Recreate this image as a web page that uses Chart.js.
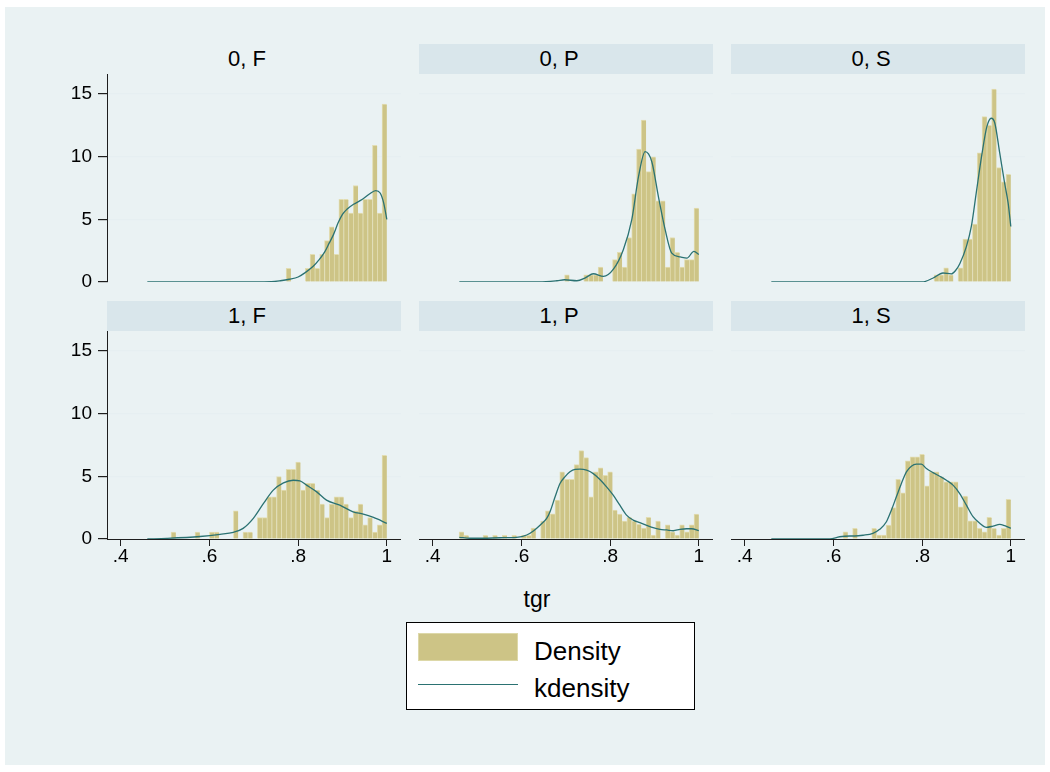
<!DOCTYPE html>
<html>
<head>
<meta charset="utf-8">
<script src="https://cdn.jsdelivr.net/npm/chart.js@4.4.1/dist/chart.umd.min.js"></script>
<style>
  body { margin: 0; background: #ffffff; font-family: "Liberation Sans", Arial, sans-serif; }
  #fig { position: relative; width: 1050px; height: 772px; overflow: hidden; }
  #bg { position: absolute; left: 5px; top: 7px; width: 1040px; height: 758px; background: #eaf2f3; }
  .band { position: absolute; height: 30px; background: #d9e6eb; }
  .hdr { position: absolute; height: 30px; line-height: 30px; font-size: 22px; text-align: center; color: #000; }
  canvas { position: absolute; }
  #xtitle { position: absolute; left: 487px; width: 100px; top: 586px; text-align: center; font-size: 23px; }
  #legend { position: absolute; left: 406px; top: 622px; width: 287px; height: 86px; background: #fff; border: 1px solid #000; }
  .swatch { position: absolute; left: 11px; top: 10px; width: 98px; height: 26px; background: #cdc486; border: 1px solid #ddd8a8; }
  .lline { position: absolute; left: 11px; top: 61px; width: 100px; height: 1.3px; background: #2b7272; }
  .ltext { position: absolute; left: 127px; font-size: 26px; line-height: 30px; }
</style>
</head>
<body>
<div id="fig">
  <div id="bg"></div>
  <div id="xtitle">tgr</div>
  <div id="legend">
    <div class="swatch"></div>
    <div class="ltext" style="top:13px">Density</div>
    <div class="lline"></div>
    <div class="ltext" style="top:50px">kdensity</div>
  </div>
</div>
<script>
// histogram bins (centres), shared by all panels
const binCenters = [
  0.4649, 0.4757, 0.4865, 0.4973, 0.5081, 0.5189, 0.5298, 0.5406, 0.5514, 0.5622,
  0.5730, 0.5838, 0.5946, 0.6054, 0.6162, 0.6270, 0.6379, 0.6487, 0.6595, 0.6703,
  0.6811, 0.6919, 0.7027, 0.7135, 0.7243, 0.7351, 0.7460, 0.7568, 0.7676, 0.7784,
  0.7892, 0.8000, 0.8108, 0.8216, 0.8324, 0.8432, 0.8541, 0.8649, 0.8757, 0.8865,
  0.8973, 0.9081, 0.9189, 0.9297, 0.9405, 0.9514, 0.9622, 0.9730, 0.9838, 0.9946
];
const xTickValues = [0.4, 0.6, 0.8, 1];
const xTickLabels = ['.4', '.6', '.8', '1'];
const yTickValues = [0, 5, 10, 15];
const yTickLabels = ['0', '5', '10', '15'];
const panelTitles = ['0, F', '0, P', '0, S', '1, F', '1, P', '1, S'];

// histogram densities
const density0F = [
  0, 0, 0, 0, 0, 0, 0, 0, 0, 0,
  0, 0, 0, 0, 0, 0, 0, 0, 0, 0,
  0, 0, 0, 0, 0, 0, 0, 0, 0, 1.1,
  0, 0, 0, 1.1, 2.2, 1.1, 2.2, 3.3, 4.4, 2.2,
  6.6, 6.6, 5.5, 7.7, 5.5, 6.6, 6.6, 10.9, 5.5, 14.2
];
const density0P = [
  0, 0, 0, 0, 0, 0, 0, 0, 0, 0,
  0, 0, 0, 0, 0, 0, 0, 0, 0, 0,
  0, 0, 0.58, 0, 0, 0, 0.58, 0.58, 0.58, 1.2,
  0, 0, 1.78, 2.36, 1.2, 3.55, 7.04, 10.6, 12.93, 8.81,
  9.98, 6.48, 6.48, 1.2, 3.55, 2.36, 1.2, 1.78, 1.78, 5.9
];
const density0S = [
  0, 0, 0, 0, 0, 0, 0, 0, 0, 0,
  0, 0, 0, 0, 0, 0, 0, 0, 0, 0,
  0, 0, 0, 0, 0, 0, 0, 0, 0, 0,
  0, 0, 0, 0, 0.57, 0.57, 1.14, 0.57, 0, 1.14,
  3.42, 3.42, 4.62, 10.3, 13.2, 12.5, 15.4, 9.13, 8.0, 8.6
];
const density1F = [
  0, 0, 0, 0, 0, 0.56, 0, 0, 0, 0,
  0.56, 0, 0, 0.56, 0.56, 0, 0, 0, 2.25, 0,
  0.56, 0.56, 0, 1.7, 1.7, 3.37, 3.37, 4.98, 3.9, 5.57,
  5.57, 6.13, 3.9, 4.45, 4.45, 3.9, 2.78, 1.7, 2.78, 3.37,
  3.37, 2.78, 1.7, 2.25, 2.78, 1.14, 1.7, 0.56, 1.14, 6.68
];
const density1P = [
  0.58, 0.29, 0, 0, 0, 0.29, 0, 0.29, 0, 0.29,
  0, 0.29, 0, 0.29, 0.29, 0.87, 0, 1.43, 2.25, 2.0,
  3.1, 5.36, 4.77, 4.77, 5.94, 7.05, 6.5, 3.37, 5.36, 5.67,
  5.09, 5.36, 2.31, 1.99, 1.43, 1.72, 1.43, 1.17, 0.87, 1.72,
  0.32, 1.43, 0, 1.14, 0.58, 0.32, 1.14, 0.58, 1.14, 1.99
];
const density1S = [
  0, 0, 0, 0, 0, 0, 0, 0, 0, 0,
  0, 0, 0, 0, 0, 0.58, 0, 0.85, 0, 0,
  0, 0.85, 0.32, 0.32, 1.11, 2.5, 4.77, 3.69, 6.23, 6.55,
  6.55, 6.76, 4.24, 5.36, 5.36, 4.96, 4.56, 4.56, 4.56, 2.57,
  3.42, 1.46, 1.46, 0.85, 0.58, 1.72, 0.85, 0.32, 0.85, 3.16
];

// kernel density curves
const kdensX0F = [0.46, 0.70, 0.74, 0.76, 0.78, 0.80, 0.816, 0.834, 0.848, 0.86, 0.87, 0.88, 0.89, 0.90, 0.91, 0.925, 0.945, 0.96, 0.975, 0.985, 0.993, 1.0];
const kdensY0F = [0, 0, 0.02, 0.1, 0.22, 0.4, 0.75, 1.25, 1.8, 2.4, 3.1, 3.8, 4.7, 5.4, 5.8, 6.2, 6.6, 7.0, 7.3, 7.1, 6.3, 5.0];
const kdensX0P = [0.46, 0.64, 0.68, 0.697, 0.725, 0.745, 0.762, 0.785, 0.807, 0.83, 0.849, 0.864, 0.879, 0.894, 0.909, 0.924, 0.939, 0.958, 0.973, 0.989, 1.0];
const kdensY0P = [0, 0, 0.1, 0.18, 0.1, 0.35, 0.66, 0.45, 1.0, 2.6, 5.0, 8.4, 10.4, 9.6, 6.8, 4.2, 2.3, 2.0, 1.9, 2.45, 2.2];
const kdensX0S = [0.46, 0.80, 0.825, 0.847, 0.866, 0.875, 0.885, 0.900, 0.911, 0.922, 0.934, 0.946, 0.956, 0.964, 0.975, 0.986, 0.994, 1.0];
const kdensY0S = [0, 0, 0.32, 0.72, 0.65, 0.9, 1.46, 2.84, 4.43, 7.1, 10.0, 12.4, 13.07, 12.67, 10.3, 7.9, 6.3, 4.43];
const kdensX1F = [0.46, 0.504, 0.579, 0.624, 0.654, 0.676, 0.699, 0.722, 0.744, 0.767, 0.789, 0.804, 0.819, 0.842, 0.864, 0.894, 0.924, 0.947, 0.970, 1.0];
const kdensY1F = [0, 0.05, 0.2, 0.37, 0.53, 0.85, 1.65, 2.84, 3.9, 4.48, 4.69, 4.64, 4.3, 3.76, 3.1, 2.7, 2.17, 1.99, 1.72, 1.25];
const kdensX1P = [0.46, 0.484, 0.514, 0.552, 0.589, 0.612, 0.627, 0.642, 0.657, 0.6645, 0.676, 0.687, 0.698, 0.7095, 0.721, 0.732, 0.747, 0.762, 0.777, 0.792, 0.807, 0.822, 0.837, 0.852, 0.867, 0.8825, 0.897, 0.9125, 0.9276, 0.9425, 0.9576, 0.9727, 0.984, 1.0];
const kdensY1P = [0.13, 0.06, 0.06, 0.1, 0.13, 0.32, 0.64, 1.1, 1.64, 2.17, 3.37, 4.43, 4.96, 5.36, 5.55, 5.57, 5.49, 5.22, 4.75, 4.16, 3.5, 2.7, 1.91, 1.51, 1.3, 1.09, 0.9, 0.77, 0.72, 0.66, 0.77, 0.82, 0.82, 0.66];
const kdensX1S = [0.46, 0.592, 0.614, 0.637, 0.648, 0.667, 0.689, 0.7044, 0.7195, 0.7307, 0.742, 0.7533, 0.7646, 0.7758, 0.7871, 0.7984, 0.8097, 0.8246, 0.8397, 0.8548, 0.8697, 0.8848, 0.8999, 0.9148, 0.93, 0.945, 0.96, 0.975, 0.9863, 1.0];
const kdensY1S = [0, 0, 0.18, 0.24, 0.24, 0.3, 0.45, 0.77, 1.38, 2.3, 3.37, 4.43, 5.36, 5.81, 5.97, 5.97, 5.62, 5.3, 5.01, 4.69, 4.3, 3.63, 2.7, 1.78, 1.25, 0.93, 1.03, 1.17, 1.06, 0.85];

const panels = [
  { bars: density0F, kx: kdensX0F, ky: kdensY0F },
  { bars: density0P, kx: kdensX0P, ky: kdensY0P },
  { bars: density0S, kx: kdensX0S, ky: kdensY0S },
  { bars: density1F, kx: kdensX1F, ky: kdensY1F },
  { bars: density1P, kx: kdensX1P, ky: kdensY1P },
  { bars: density1S, kx: kdensX1S, ky: kdensY1S }
];

// layout of the facet grid
const colLeft = [107, 419, 731];
const rowTop = [74, 331];
const bandTop = [44, 301];
const plotW = 294, plotH = 208;

const barFill = '#cdc486';
const barEdge = '#e2ddb2';
const lineColor = '#2b7272';
const gridColor = '#e6eff1';
const axisColor = '#1e1e1e';

Chart.defaults.font.family = "'Liberation Sans', Arial, sans-serif";
Chart.defaults.font.size = 19;
Chart.defaults.color = '#000';

// keep the plot area exactly where the axes were fitted
function noPadding(s) {
  s.paddingTop = 0; s.paddingBottom = 0; s.paddingLeft = 0; s.paddingRight = 0;
}

const fig = document.getElementById('fig');

panels.forEach((p, i) => {
  const row = Math.floor(i / 3);
  const col = i % 3;

  if (!(row === 0 && col === 0)) {
    const band = document.createElement('div');
    band.className = 'band';
    band.style.left = colLeft[col] + 'px';
    band.style.top = bandTop[row] + 'px';
    band.style.width = plotW + 'px';
    fig.appendChild(band);
  }
  const hdr = document.createElement('div');
  hdr.className = 'hdr';
  hdr.textContent = panelTitles[i];
  hdr.style.left = (colLeft[col] - 7) + 'px';
  hdr.style.top = bandTop[row] + 'px';
  hdr.style.width = plotW + 'px';
  fig.appendChild(hdr);

  const axisW = col === 0 ? 67 : 0;
  const xAxisH = row === 1 ? 34 : 14;
  const cv = document.createElement('canvas');
  cv.width = plotW + axisW;
  cv.height = plotH + xAxisH;
  cv.style.left = (colLeft[col] - axisW) + 'px';
  cv.style.top = rowTop[row] + 'px';
  fig.appendChild(cv);

  const showX = row === 1;
  const showY = col === 0;

  new Chart(cv, {
    type: 'bar',
    data: {
      datasets: [
        {
          type: 'line',
          label: 'kdensity',
          data: p.kx.map((x, j) => ({ x: x, y: p.ky[j] })),
          borderColor: lineColor,
          borderWidth: 1.3,
          pointRadius: 0,
          cubicInterpolationMode: 'monotone',
          order: 0
        },
        {
          type: 'bar',
          label: 'Density',
          data: binCenters.map((x, j) => ({ x: x, y: p.bars[j] })),
          backgroundColor: barFill,
          borderColor: barEdge,
          borderWidth: { top: 1, left: 1, right: 0, bottom: 0 },
          barPercentage: 1,
          categoryPercentage: 1,
          order: 1
        }
      ]
    },
    options: {
      responsive: false,
      animation: false,
      layout: { padding: 0 },
      plugins: { legend: { display: false }, tooltip: { enabled: false } },
      scales: {
        x: {
          type: 'linear',
          offset: false,
          min: 0.3691,
          max: 1.032,
          afterBuildTicks: s => { s.ticks = xTickValues.map(v => ({ value: v })); },
          afterFit: s => { s.height = xAxisH; noPadding(s); },
          grid: { display: showX, offset: false, drawOnChartArea: false, drawTicks: true, tickLength: 7, tickColor: axisColor, color: axisColor },
          border: { display: showX, color: axisColor, width: 1 },
          ticks: { display: showX, padding: -1, maxRotation: 0, autoSkip: false, callback: (v, j) => xTickLabels[j] }
        },
        y: {
          min: 0,
          max: 16.6,
          afterBuildTicks: s => { s.ticks = yTickValues.map(v => ({ value: v })); },
          afterFit: s => { s.width = axisW; noPadding(s); },
          grid: {
            color: ctx => (ctx.tick && ctx.tick.value === 0) ? 'rgba(0,0,0,0)' : gridColor,
            lineWidth: 1.2,
            drawTicks: showY,
            tickLength: 9,
            tickColor: axisColor
          },
          border: { display: showY, color: axisColor, width: 1 },
          ticks: { display: showY, padding: 6, callback: (v, j) => yTickLabels[j] }
        }
      }
    }
  });
});
</script>
</body>
</html>
